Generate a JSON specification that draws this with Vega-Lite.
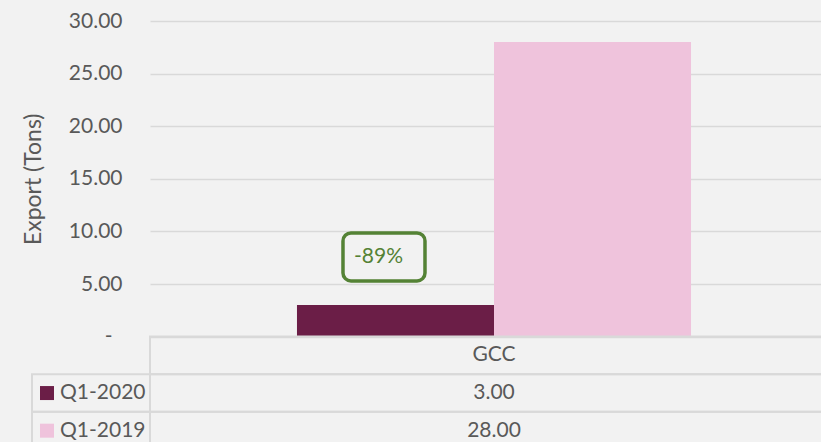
{
  "$schema": "https://vega.github.io/schema/vega-lite/v6.json",
  "width": 671,
  "height": 421,
  "autosize": {"type": "none"},
  "padding": {"left": 150, "top": 21, "right": 0, "bottom": 0},
  "background": "#F2F2F2",
  "config": {
    "view": {"stroke": null},
    "font": "Lato",
    "axis": {"labelFont": "Lato", "titleFont": "Lato"}
  },
  "datasets": {
    "exports": [
      {"region": "GCC", "series": "Q1-2020", "value": 3},
      {"region": "GCC", "series": "Q1-2019", "value": 28}
    ],
    "annotation": [
      {"series": "Q1-2020", "label": "-89%", "value": 7.57}
    ]
  },
  "resolve": {"scale": {"x": "independent", "y": "independent"}},
  "layer": [
    {
      "data": {"name": "exports"},
      "layer": [
        {
          "mark": {"type": "bar"},
          "encoding": {
            "x": {
              "field": "series", "type": "nominal",
              "scale": {"domain": ["Q1-2020", "Q1-2019"], "range": [0, 688], "paddingInner": 0, "paddingOuter": 0.746},
              "axis": null
            },
            "y": {
              "field": "value", "type": "quantitative",
              "scale": {"domain": [0, 30], "range": [315.6, 0], "nice": false},
              "axis": {
                "values": [0, 5, 10, 15, 20, 25, 30],
                "labelExpr": "datum.value === 0 ? '-' : format(datum.value, '.2f')",
                "grid": true, "gridColor": "#D9D9D9", "gridWidth": 1.5,
                "domain": false, "ticks": false, "tickSize": 0,
                "labelPadding": {"condition": {"test": "datum.value === 0", "value": 38}, "value": 28},
                "labelFontSize": 21, "labelColor": "#595959",
                "title": "Export (Tons)", "titleFontSize": 23, "titleFontWeight": "normal",
                "titleColor": "#595959", "titleBaseline": "alphabetic", "titleX": -110
              }
            },
            "color": {
              "field": "series", "type": "nominal",
              "scale": {"domain": ["Q1-2020", "Q1-2019"], "range": ["#6B1E47", "#EFC3DC"]},
              "legend": null
            }
          }
        },
        {
          "data": {"name": "annotation"},
          "mark": {"type": "rect", "width": 82, "height": 48, "xOffset": -11.5, "cornerRadius": 8, "fill": "#F2F2F2", "stroke": "#548235", "strokeWidth": 3.5},
          "encoding": {
            "x": {"field": "series", "type": "nominal"},
            "y": {"field": "value", "type": "quantitative"}
          }
        },
        {
          "data": {"name": "annotation"},
          "mark": {"type": "text", "fontSize": 21, "color": "#548235", "xOffset": -17},
          "encoding": {
            "x": {"field": "series", "type": "nominal"},
            "y": {"field": "value", "type": "quantitative"},
            "text": {"field": "label"}
          }
        }
      ]
    },
    {
      "data": {"name": "exports"},
      "resolve": {"scale": {"x": "independent"}},
      "layer": [
        {
          "layer": [
            {
              "transform": [{"aggregate": [{"op": "count", "as": "n"}], "groupby": ["region"]}],
              "mark": {"type": "rect", "fillOpacity": 0, "stroke": "#D9D9D9", "strokeWidth": 2},
              "encoding": {
                "x": {"field": "region", "type": "nominal", "scale": {"range": [0, 688], "paddingInner": 0, "paddingOuter": 0}, "axis": null},
                "y": {"datum": "GCC", "type": "nominal", "scale": {"domain": ["GCC", "Q1-2020", "Q1-2019"], "range": [315.6, 428.5], "paddingInner": 0, "paddingOuter": 0}, "axis": null}
              }
            },
            {
              "transform": [{"aggregate": [{"op": "count", "as": "n"}], "groupby": ["region"]}],
              "mark": {"type": "text", "fontSize": 21, "color": "#595959"},
              "encoding": {
                "x": {"field": "region", "type": "nominal"},
                "y": {"datum": "GCC", "type": "nominal"},
                "text": {"field": "region"}
              }
            },
            {
              "mark": {"type": "rect", "fillOpacity": 0, "stroke": "#D9D9D9", "strokeWidth": 2},
              "encoding": {
                "x": {"field": "region", "type": "nominal"},
                "y": {"field": "series", "type": "nominal"}
              }
            },
            {
              "mark": {"type": "text", "fontSize": 21, "color": "#595959"},
              "encoding": {
                "x": {"field": "region", "type": "nominal"},
                "y": {"field": "series", "type": "nominal"},
                "text": {"field": "value", "format": ".2f"}
              }
            }
          ]
        },
        {
          "layer": [
            {
              "mark": {"type": "rect", "fillOpacity": 0, "stroke": "#D9D9D9", "strokeWidth": 2},
              "encoding": {
                "x": {"datum": "key", "type": "nominal", "scale": {"range": [-118, 0], "paddingInner": 0, "paddingOuter": 0}, "axis": null},
                "y": {"field": "series", "type": "nominal"}
              }
            },
            {
              "mark": {"type": "point", "shape": "square", "size": 196, "filled": true, "opacity": 1, "xOffset": -44},
              "encoding": {
                "x": {"datum": "key", "type": "nominal"},
                "y": {"field": "series", "type": "nominal"},
                "color": {
                  "field": "series", "type": "nominal",
                  "scale": {"domain": ["Q1-2020", "Q1-2019"], "range": ["#6B1E47", "#EFC3DC"]},
                  "legend": null
                }
              }
            },
            {
              "mark": {"type": "text", "fontSize": 21, "color": "#595959", "align": "left", "xOffset": -31},
              "encoding": {
                "x": {"datum": "key", "type": "nominal"},
                "y": {"field": "series", "type": "nominal"},
                "text": {"field": "series"}
              }
            }
          ]
        }
      ]
    }
  ]
}
